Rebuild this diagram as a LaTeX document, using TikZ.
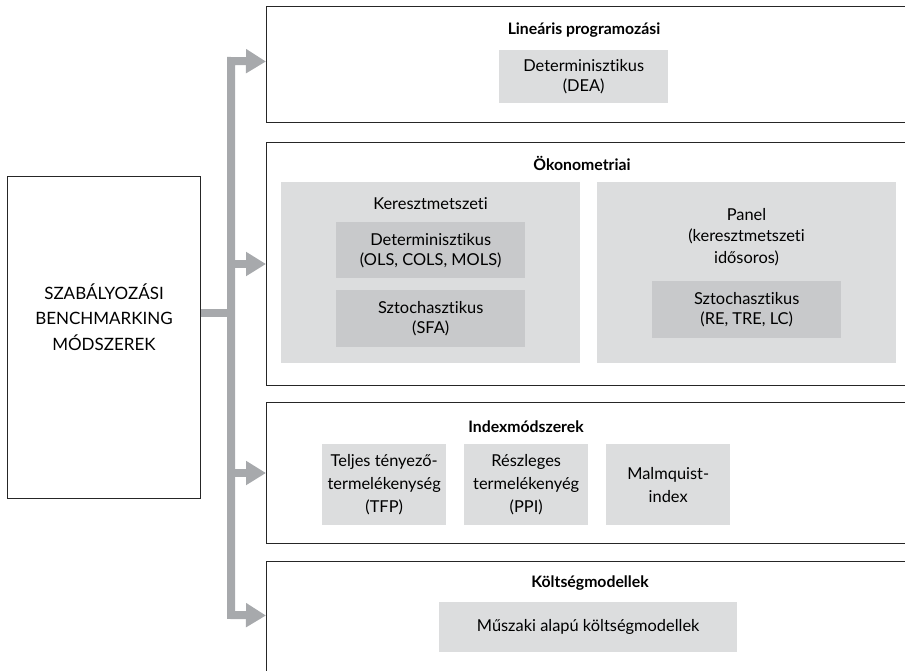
\documentclass[tikz,border=0pt]{standalone}
\usepackage{fontspec}
\setmainfont{Lato}[Ligatures=NoCommon]
\usetikzlibrary{arrows.meta}
\definecolor{lightbox}{HTML}{DCDDDE}
\definecolor{darkbox}{HTML}{C8C9CB}
\definecolor{arrowgray}{HTML}{A7A9AC}
\begin{document}
\begin{tikzpicture}[x=1pt,y=-1pt,
  frame/.style={draw=black!85, line width=1pt, fill=white, rectangle, inner sep=0pt, anchor=north west},
  lightb/.style={fill=lightbox, rectangle, inner sep=0pt, anchor=north west, align=center, font=\fontsize{16.4}{20}\selectfont},
  darkb/.style={fill=darkbox, rectangle, inner sep=0pt, anchor=north west, align=center, font=\fontsize{16.4}{20}\selectfont},
  txt/.style={inner sep=0pt, align=center, font=\fontsize{16.4}{20}\selectfont},
  ttl/.style={inner sep=0pt, font=\fontsize{15.8}{20}\selectfont\bfseries},
  trunk/.style={draw=arrowgray, line width=8pt, line join=miter},
  tip/.tip={Triangle[width=23pt,length=20pt]}
]
\useasboundingbox (0,0) rectangle (905,670);
\clip (0,0) rectangle (905,670);

% source box
\node[frame, minimum width=193pt, minimum height=322pt] (src) at (7,176) {};
\node[txt, font=\fontsize{17}{25.5}\selectfont] (srct) at (104,317) {SZABÁLYOZÁSI\\BENCHMARKING\\MÓDSZEREK};

% outer boxes
\node[frame, minimum width=644pt, minimum height=116pt] (lin) at (266,6) {};
\node[frame, minimum width=644pt, minimum height=243pt] (oko) at (266,142) {};
\node[frame, minimum width=644pt, minimum height=141pt] (idx) at (266,402) {};
\node[frame, minimum width=644pt, minimum height=114pt] (kolt) at (266,561) {};

% Linearis programozasi
\node[ttl] (linT) at (584,30) {Lineáris programozási};
\node[lightb, minimum width=169pt, minimum height=53pt] (dea) at (499,50) {Determinisztikus\\(DEA)};

% Okonometriai
\node[ttl] (okoT) at (582,163) {Ökonometriai};
\node[lightb, minimum width=299pt, minimum height=181pt] (ker) at (281,182) {};
\node[txt] (kerT) at (430.5,204) {Keresztmetszeti};
\node[darkb, minimum width=189pt, minimum height=56pt] (ols) at (336,222) {Determinisztikus\\(OLS, COLS, MOLS)};
\node[darkb, minimum width=189pt, minimum height=57pt] (sfa) at (336,290) {Sztochasztikus\\(SFA)};
\node[lightb, minimum width=299pt, minimum height=181pt] (pan) at (597,182) {};
\node[txt, font=\fontsize{16.4}{21.5}\selectfont] (panT) at (746.5,237) {Panel\\(keresztmetszeti\\idősoros)};
\node[darkb, minimum width=189pt, minimum height=57pt] (re) at (652,281) {Sztochasztikus\\(RE, TRE, LC)};

% Indexmodszerek
\node[ttl] (idxT) at (526,427) {Indexmódszerek};
\node[lightb, minimum width=124pt, minimum height=81pt, font=\fontsize{16.4}{23}\selectfont] (tfp) at (322,444) {Teljes tényező-\\termelékenység\\(TFP)};
\node[lightb, minimum width=124pt, minimum height=81pt, font=\fontsize{16.4}{23}\selectfont] (ppi) at (464,444) {Részleges\\termelékenyég\\(PPI)};
\node[lightb, minimum width=124pt, minimum height=81pt, font=\fontsize{16.4}{23}\selectfont] (mal) at (606,444) {Malmquist-\\index};

% Koltsegmodellek
\node[ttl] (koltT) at (590,583) {Költségmodellek};
\node[lightb, minimum width=298pt, minimum height=50pt] (msz) at (439,602) {Műszaki alapú költségmodellek};

% connectors
\coordinate (tt) at (231,61);
\coordinate (tb) at (231,615);
\draw[trunk, {tip}-{tip}] ([yshift=3pt]lin.west) -- (tt) -- (tb) -- ([yshift=3pt]kolt.west);
\draw[trunk, -{tip}] (tt |- oko.west) -- (oko.west);
\draw[trunk, -{tip}] (tt |- idx.west) -- (idx.west);
\draw[trunk] ([yshift=25pt]src.east) -- ([yshift=25pt]src.east -| tt);
\end{tikzpicture}
\end{document}
